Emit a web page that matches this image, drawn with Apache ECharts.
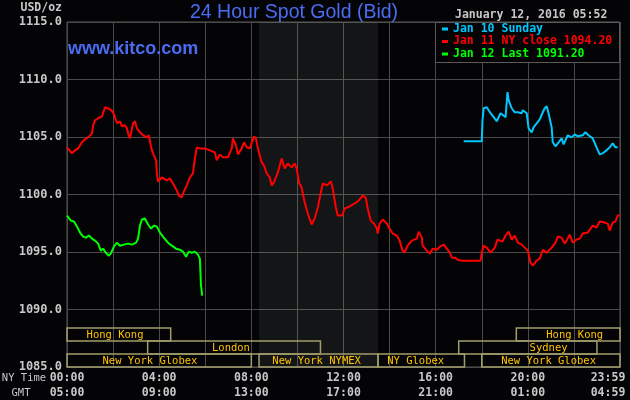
<!DOCTYPE html>
<html><head><meta charset="utf-8">
<script src="https://cdn.jsdelivr.net/npm/echarts@6/dist/echarts.min.js"></script>
<style>html,body{margin:0;padding:0;background:#040407;}#c{width:630px;height:400px;}</style>
</head><body><div id="c"></div>
<script>
// ---- tick labels ----
const nyTickLabels  = ['00:00','04:00','08:00','12:00','16:00','20:00','23:59'];
const gmtTickLabels = ['05:00','09:00','13:00','17:00','21:00','01:00','04:59'];
const yTicks = [1085,1090,1095,1100,1105,1110,1115];

// ---- series (minutes after 00:00 NY time, price USD/oz) ----
const jan11Name = 'Jan 11 NY close 1094.20';
const jan11Time = [0,3,13,21,29,39,47,55,65,68,73,81,91,94,99,104,112,120,125,130,138,143,151,156,159,164,169,172,177,182,190,198,208,213,219,224,232,234,237,242,247,252,260,268,276,286,291,299,302,312,320,328,333,338,346,359,372,385,390,398,406,419,429,432,440,445,455,461,468,476,481,487,492,497,507,513,520,528,533,539,541,549,559,567,575,585,593,598,604,611,619,627,637,645,653,661,666,677,687,692,700,705,716,723,736,749,760,770,778,783,791,799,807,809,814,822,833,840,848,859,866,874,879,887,898,911,916,924,926,937,945,952,963,971,981,989,997,1002,1010,1017,1028,1077,1080,1085,1093,1103,1114,1121,1134,1142,1150,1158,1166,1174,1184,1192,1200,1207,1213,1223,1231,1239,1249,1262,1272,1278,1288,1296,1301,1309,1317,1327,1335,1343,1356,1369,1379,1387,1400,1408,1413,1421,1428,1434,1439];
const jan11Price = [1104.10,1104.01,1103.58,1103.84,1104.01,1104.54,1104.80,1104.97,1105.32,1106.02,1106.45,1106.63,1106.80,1107.07,1107.59,1107.68,1107.41,1107.15,1106.72,1106.19,1106.37,1105.93,1106.02,1105.76,1105.32,1104.88,1104.97,1106.19,1106.37,1105.76,1105.41,1105.15,1104.97,1105.15,1104.10,1103.58,1102.97,1101.83,1101.13,1100.96,1101.48,1101.31,1101.22,1101.40,1100.96,1100.35,1099.91,1099.74,1100.09,1100.79,1101.48,1101.83,1103.14,1104.10,1104.01,1104.01,1103.84,1103.66,1102.97,1103.49,1103.23,1103.23,1104.01,1104.88,1104.27,1103.49,1104.01,1104.54,1104.10,1104.01,1103.84,1105.06,1104.88,1104.01,1102.79,1102.53,1101.83,1101.48,1100.79,1101.05,1100.96,1101.92,1103.14,1102.27,1102.70,1102.36,1102.70,1102.27,1101.05,1100.61,1099.30,1098.34,1097.39,1097.91,1098.87,1100.18,1100.96,1100.79,1101.13,1100.52,1098.87,1098.17,1098.17,1098.78,1098.96,1099.22,1099.48,1099.91,1099.74,1098.78,1097.73,1097.47,1097.04,1096.60,1097.47,1097.82,1097.47,1097.04,1096.60,1096.43,1095.99,1095.12,1094.94,1095.55,1095.99,1096.16,1096.77,1096.25,1095.55,1095.12,1094.86,1095.29,1095.20,1095.46,1095.64,1095.29,1094.94,1094.51,1094.51,1094.33,1094.25,1094.25,1094.94,1095.55,1095.38,1094.94,1095.38,1096.08,1095.90,1096.43,1096.77,1096.08,1096.43,1095.81,1095.64,1095.38,1095.12,1094.07,1093.81,1094.25,1094.42,1095.20,1094.94,1095.38,1095.81,1096.34,1096.25,1095.73,1095.99,1096.51,1095.81,1096.08,1096.16,1096.60,1096.69,1097.30,1097.12,1097.65,1097.56,1097.47,1096.86,1097.56,1097.65,1098.17,1098.20];

const jan12Name = 'Jan 12 Last 1091.20';
const jan12Time = [0,5,10,18,26,34,42,49,57,65,73,81,88,94,101,109,114,122,130,138,148,159,169,180,185,190,195,203,211,219,226,234,242,252,263,273,284,294,302,310,317,325,333,341,346,349,352];
const jan12Price = [1098.17,1098.08,1097.73,1097.65,1097.21,1096.69,1096.34,1096.25,1096.43,1096.16,1095.99,1095.73,1095.12,1095.29,1094.94,1094.68,1094.86,1095.46,1095.81,1095.55,1095.64,1095.73,1095.64,1095.81,1096.16,1097.30,1097.82,1097.91,1097.39,1097.04,1097.30,1097.21,1096.69,1096.25,1095.81,1095.55,1095.29,1095.20,1095.03,1094.59,1095.03,1094.94,1095.03,1094.77,1094.42,1092.07,1091.20];

const jan10Name = 'Jan 10 Sunday';
const jan10Time = [1033,1080,1082,1085,1093,1098,1103,1111,1119,1129,1134,1142,1147,1150,1158,1166,1174,1184,1187,1197,1202,1210,1215,1223,1231,1239,1244,1249,1254,1262,1265,1272,1280,1288,1293,1298,1304,1314,1322,1330,1343,1350,1358,1369,1379,1387,1395,1405,1413,1421,1428,1434];
const jan10Price = [1104.62,1104.62,1106.45,1107.50,1107.59,1107.68,1107.07,1106.72,1106.37,1107.07,1107.24,1106.72,1108.90,1108.20,1107.50,1107.15,1107.15,1107.07,1107.33,1107.07,1105.76,1105.41,1105.84,1106.19,1106.54,1107.15,1107.50,1107.68,1107.07,1105.84,1104.54,1104.19,1104.54,1104.88,1104.36,1104.71,1105.15,1104.97,1105.23,1105.06,1105.15,1105.41,1105.15,1104.88,1104.10,1103.49,1103.58,1103.84,1104.10,1104.45,1104.10,1104.10];

// ---- trading sessions (minutes, NY time) ----
const sessionNames   = ['Hong Kong','London','New York Globex','New York NYMEX','NY Globex','Sydney','Hong Kong','New York Globex'];
const sessionRow     = [2,1,0,0,0,1,2,0];
const sessionStart   = [0,210,0,500,810,1020,1170,1080];
const sessionEnd     = [270,660,480,810,1035,1380,1440,1440];
const sessionLabelAt = [125,427,216,650,908,1254,1322,1254];
const nymexOpen = [500,810];

const zip = (a,b) => a.map((v,i)=>[v,b[i]]);
const MONO = '"DejaVu Sans Mono", monospace';
const gray = '#c8c8c8';

const chart = echarts.init(document.getElementById('c'), null, {renderer:'canvas'});
chart.setOption({
  animation:false,
  backgroundColor:'#040407',
  grid:{left:67,right:10,top:22,bottom:33,containLabel:false,outerBoundsMode:'none',show:true,borderColor:'#5a5a5a',borderWidth:1,backgroundColor:'transparent'},
  xAxis:{type:'value',min:0,max:1440,interval:120,
    axisLine:{show:false},axisTick:{show:false},
    splitLine:{show:true,lineStyle:{color:'#4a4a4a',width:1}},
    axisLabel:{showMinLabel:true,showMaxLabel:true,hideOverlap:false,margin:4,color:gray,fontFamily:MONO,fontWeight:'bold',fontSize:11.5,lineHeight:15,
      formatter:function(v){
        if (v % 240 !== 0) return '';
        const i = v/240;
        if (i === nyTickLabels.length-1) return '{e|'+nyTickLabels[i]+'}\n{e|'+gmtTickLabels[i]+'}';
        return nyTickLabels[i]+'\n'+gmtTickLabels[i];
      },
      rich:{e:{padding:[0,24,0,0],color:gray,fontFamily:MONO,fontWeight:'bold',fontSize:11.5,lineHeight:15}}
    }},
  yAxis:{type:'value',min:yTicks[0],max:yTicks[yTicks.length-1],interval:5,
    axisLine:{show:false},axisTick:{show:false},
    splitLine:{show:true,lineStyle:{color:'#4a4a4a',width:1}},
    axisLabel:{margin:5,color:gray,fontFamily:MONO,fontWeight:'bold',fontSize:12,formatter:v=>v.toFixed(1)}},
  legend:{orient:'vertical',left:442,top:23,padding:0,itemGap:0.5,itemWidth:6,itemHeight:3,itemTextGap:4,icon:'rect',selectedMode:false,z:20,
    textStyle:{fontFamily:MONO,fontSize:11.5,fontWeight:'bold',lineHeight:12},
    data:[{name:jan10Name,textStyle:{color:'#00c8ff'}},{name:jan11Name,textStyle:{color:'#ff0000'}},{name:jan12Name,textStyle:{color:'#00ff00'}}]},
  graphic:[
    {type:'rect',z:10,shape:{x:435.5,y:22.5,width:184,height:40},style:{fill:'#040407',stroke:'#5a5a5a',lineWidth:1}},
    {type:'text',z:10,style:{text:'24 Hour Spot Gold (Bid)',x:190,y:12.5,verticalAlign:'middle',fill:'#4a6cf2',font:'19.5px "Liberation Sans", Arial, sans-serif'}},
    {type:'text',z:10,style:{text:'www.kitco.com',x:68,y:49,verticalAlign:'middle',fill:'#4a6cf2',font:'bold 18px "Liberation Sans", Arial, sans-serif'}},
    {type:'text',z:10,style:{text:'January 12, 2016 05:52',x:455,y:15,verticalAlign:'middle',fill:gray,font:'bold 11.5px '+MONO}},
    {type:'text',z:10,style:{text:'USD/oz',x:62,y:8,align:'right',verticalAlign:'middle',fill:gray,font:'bold 11.5px '+MONO}},
    {type:'text',z:10,style:{text:'NY Time',x:24,y:378,align:'center',verticalAlign:'middle',fill:gray,font:'10.5px '+MONO}},
    {type:'text',z:10,style:{text:'GMT',x:21,y:393,align:'center',verticalAlign:'middle',fill:gray,font:'10.5px '+MONO}}
  ],
  series:[
    {type:'line',name:jan11Name,data:zip(jan11Time,jan11Price),showSymbol:false,color:'#ff0000',lineStyle:{width:2},z:4,
      markArea:{silent:true,itemStyle:{color:'rgba(200,230,200,0.08)'},data:[[{xAxis:nymexOpen[0]},{xAxis:nymexOpen[1]}]]}},
    {type:'line',name:jan12Name,data:zip(jan12Time,jan12Price),showSymbol:false,color:'#00ff00',lineStyle:{width:2},z:4},
    {type:'line',name:jan10Name,data:zip(jan10Time,jan10Price),showSymbol:false,color:'#00c8ff',lineStyle:{width:2},z:4},
    {type:'custom',name:'sessions',silent:true,clip:false,z:3,
      encode:{x:[0,1],y:2},
      data:sessionNames.map((n,i)=>[sessionStart[i],sessionEnd[i],sessionRow[i],sessionLabelAt[i]]),
      renderItem:function(params,api){
        const i = params.dataIndex;
        const p0 = api.coord([api.value(0),yTicks[0]]);
        const p1 = api.coord([api.value(1),yTicks[0]]);
        const lx = api.coord([api.value(3),yTicks[0]])[0];
        const rowH = 13;
        const yb = p0[1] - api.value(2)*rowH;
        const yt = yb - rowH;
        return {type:'group',children:[
          {type:'rect',shape:{x:p0[0],y:yt,width:p1[0]-p0[0],height:rowH},style:{fill:null,stroke:'#a39d6b',lineWidth:1.5}},
          {type:'text',style:{text:sessionNames[i],x:lx,y:yt+rowH/2+0.5,align:'center',verticalAlign:'middle',fill:'#ffc400',font:'10.5px '+MONO}}
        ]};
      }}
  ]
});
</script></body></html>
